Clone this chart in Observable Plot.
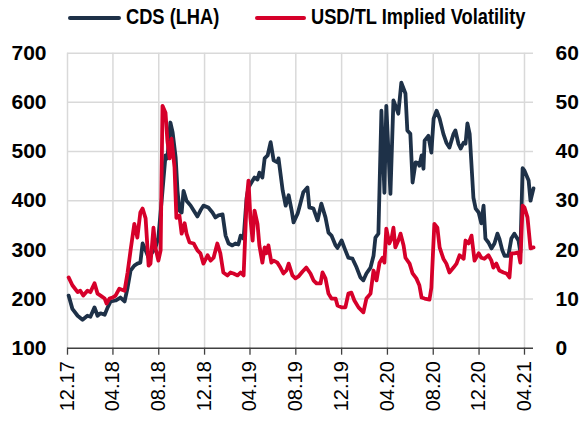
<!DOCTYPE html>
<html>
<head>
<meta charset="utf-8">
<script src="https://cdn.jsdelivr.net/npm/d3@7"></script>
<script src="https://cdn.jsdelivr.net/npm/@observablehq/plot@0.6"></script>
<style>
  html, body { margin: 0; padding: 0; background: #fff; }
  #wrap { width: 587px; height: 421px; position: relative; overflow: hidden; }
  #legend { position: relative; width: 587px; height: 36px; }
  .sw { position: absolute; height: 4px; border-radius: 2px; top: 16px; }
  .lt { position: absolute; top: 4px; font-family: "Liberation Sans", Arial, sans-serif; font-weight: bold; font-size: 22px; line-height: 26px; color: #000; white-space: nowrap; transform: scaleX(0.83); transform-origin: 0 50%; }
  #chart svg { display: block; }
</style>
</head>
<body>
<div id="wrap">
  <div id="legend"></div>
  <div id="chart"></div>
</div>
<script>
// ---- data ----
const seriesNames = ["CDS (LHA)", "USD/TL Implied Volatility"];
const seriesColors = ["#1e3148", "#d6002a"];

const cdsDates = ["2017-12-04","2017-12-14","2017-12-28","2018-01-10","2018-01-23","2018-01-31","2018-02-11","2018-02-19","2018-02-27","2018-03-10","2018-03-18","2018-03-26","2018-04-08","2018-04-21","2018-05-02","2018-05-10","2018-05-18","2018-05-28","2018-06-05","2018-06-13","2018-06-19","2018-06-27","2018-07-05","2018-07-23","2018-07-31","2018-08-11","2018-08-19","2018-08-24","2018-09-01","2018-09-07","2018-09-15","2018-09-20","2018-09-25","2018-10-01","2018-10-06","2018-10-14","2018-10-25","2018-11-02","2018-11-12","2018-11-20","2018-11-28","2018-12-11","2018-12-22","2018-12-30","2019-01-07","2019-01-18","2019-01-26","2019-02-03","2019-02-13","2019-02-21","2019-03-01","2019-03-07","2019-03-15","2019-03-23","2019-03-28","2019-04-08","2019-04-13","2019-04-21","2019-04-26","2019-05-04","2019-05-10","2019-05-18","2019-05-26","2019-06-03","2019-06-13","2019-06-16","2019-06-27","2019-07-05","2019-07-13","2019-07-21","2019-07-26","2019-08-06","2019-08-13","2019-08-21","2019-09-01","2019-09-06","2019-09-09","2019-09-17","2019-09-28","2019-10-08","2019-10-19","2019-10-27","2019-11-04","2019-11-15","2019-11-20","2019-12-01","2019-12-11","2019-12-19","2019-12-30","2020-01-10","2020-01-20","2020-01-28","2020-02-05","2020-02-16","2020-02-24","2020-02-29","2020-03-08","2020-03-16","2020-03-24","2020-03-29","2020-04-09","2020-04-17","2020-04-25","2020-04-30","2020-05-08","2020-05-19","2020-05-24","2020-06-01","2020-06-07","2020-06-15","2020-06-23","2020-06-25","2020-07-01","2020-07-06","2020-07-09","2020-07-19","2020-07-27","2020-08-02","2020-08-10","2020-08-18","2020-08-28","2020-09-05","2020-09-13","2020-09-24","2020-09-29","2020-10-07","2020-10-13","2020-10-21","2020-10-26","2020-10-31","2020-11-06","2020-11-16","2020-11-22","2020-11-30","2020-12-07","2020-12-13","2020-12-18","2020-12-26","2021-01-03","2021-01-11","2021-01-19","2021-01-24","2021-02-01","2021-02-07","2021-02-17","2021-02-25","2021-03-05","2021-03-16","2021-03-21","2021-03-27","2021-04-01","2021-04-12","2021-04-17","2021-04-25"];
const cdsValues = [207,180,166,158,166,164,183,166,171,168,183,195,197,203,195,223,258,268,272,274,313,299,284,304,325,420,492,486,559,539,488,420,380,376,420,400,390,380,368,380,390,386,376,366,370,372,329,313,309,313,311,329,323,406,427,441,447,443,457,447,486,492,519,482,478,486,421,390,411,380,356,374,394,417,427,386,386,384,360,394,366,335,329,309,304,319,299,284,282,264,244,238,252,264,288,325,333,583,416,593,414,604,588,577,640,618,543,536,437,478,476,471,492,465,522,532,498,567,583,567,536,518,508,536,543,516,506,518,516,557,536,406,384,376,354,390,323,315,303,313,333,323,299,288,288,323,333,319,295,466,461,441,400,425];

const volDates = ["2017-12-04","2017-12-14","2017-12-28","2018-01-04","2018-01-12","2018-01-23","2018-01-31","2018-02-11","2018-02-19","2018-02-27","2018-03-10","2018-03-15","2018-03-23","2018-03-31","2018-04-08","2018-04-18","2018-05-02","2018-05-10","2018-05-18","2018-05-28","2018-06-05","2018-06-13","2018-06-19","2018-06-27","2018-07-05","2018-07-10","2018-07-18","2018-07-23","2018-07-31","2018-08-06","2018-08-11","2018-08-19","2018-08-24","2018-08-30","2018-09-04","2018-09-12","2018-09-17","2018-09-25","2018-10-01","2018-10-09","2018-10-14","2018-10-22","2018-11-02","2018-11-12","2018-11-20","2018-11-28","2018-12-09","2018-12-17","2018-12-25","2019-01-04","2019-01-12","2019-01-20","2019-01-31","2019-02-08","2019-02-16","2019-02-27","2019-03-07","2019-03-15","2019-03-23","2019-03-28","2019-04-02","2019-04-08","2019-04-13","2019-04-21","2019-04-26","2019-05-04","2019-05-10","2019-05-15","2019-05-20","2019-05-28","2019-06-03","2019-06-13","2019-06-21","2019-06-29","2019-07-07","2019-07-13","2019-07-23","2019-07-31","2019-08-08","2019-08-19","2019-08-29","2019-09-09","2019-09-17","2019-09-25","2019-10-06","2019-10-11","2019-10-19","2019-10-27","2019-11-04","2019-11-15","2019-11-20","2019-12-01","2019-12-11","2019-12-19","2019-12-27","2020-01-04","2020-01-15","2020-01-28","2020-02-05","2020-02-16","2020-02-24","2020-03-03","2020-03-11","2020-03-19","2020-03-24","2020-03-29","2020-04-06","2020-04-12","2020-04-17","2020-04-22","2020-04-30","2020-05-06","2020-05-14","2020-05-19","2020-05-30","2020-06-07","2020-06-17","2020-06-25","2020-07-01","2020-07-09","2020-07-22","2020-07-27","2020-08-04","2020-08-12","2020-08-18","2020-08-28","2020-09-05","2020-09-13","2020-09-24","2020-10-02","2020-10-10","2020-10-21","2020-10-26","2020-11-03","2020-11-11","2020-11-19","2020-11-30","2020-12-07","2020-12-15","2020-12-26","2021-01-03","2021-01-08","2021-01-16","2021-01-24","2021-02-04","2021-02-12","2021-02-20","2021-02-25","2021-03-05","2021-03-16","2021-03-21","2021-03-27","2021-04-01","2021-04-09","2021-04-17","2021-04-25"];
const volValues = [14.4,12.8,11.4,11.7,10.7,11.7,11.4,13.2,11.1,10.7,10.1,9.1,10.1,10.3,10.7,12.1,11.7,15.4,19.9,25.3,22.5,27.6,28.4,26.4,16.8,17.2,24.5,20.5,17.8,19.9,49.3,47.9,42.2,38.6,42.6,36.8,26.5,27.0,23.3,25.4,23.3,21.5,21.3,19.9,19.3,17.2,18.9,17.8,18.4,21.3,19.3,15.4,14.8,15.4,15.2,14.8,15.4,14.8,30.0,34.1,26.5,21.9,28.0,25.3,20.9,17.4,20.5,19.3,20.9,17.4,17.8,17.4,16.4,15.2,15.8,17.2,14.8,14.2,14.6,15.6,16.4,15.2,13.8,13.2,13.2,15.4,14.2,11.1,10.1,10.1,8.7,8.3,8.3,11.1,11.3,9.7,8.3,7.3,10.1,11.1,15.8,13.8,17.4,18.4,17.4,24.3,21.3,22.3,24.5,20.5,21.9,23.3,20.9,18.4,17.2,15.2,14.2,12.8,10.3,10.1,9.9,12.3,25.3,24.5,20.5,18.2,17.2,15.4,16.4,17.2,18.9,18.2,21.9,21.3,22.9,17.8,19.3,18.4,18.2,18.9,17.8,16.4,17.2,15.8,15.4,15.2,14.4,19.3,19.3,19.5,17.4,29.0,28.6,26.6,20.3,20.5];

const leftTicks = [100, 200, 300, 400, 500, 600, 700];
const rightTicks = [0, 10, 20, 30, 40, 50, 60];
const xTickLabels = ["12.17","04.18","08.18","12.18","04.19","08.19","12.19","04.20","08.20","12.20","04.21"];
const xDomain = ["2017-12-01", "2021-04-25"];

// ---- build ----
const parseTick = d3.utcParse("%m.%y");
const xTicks = xTickLabels.map(parseTick);
const cds = cdsDates.map((d, i) => ({date: new Date(d), value: cdsValues[i]}));
const vol = volDates.map((d, i) => ({date: new Date(d), value: volValues[i]}));
// right axis (0..60) maps onto left axis (100..700)
const r0 = rightTicks[0], r1 = rightTicks[rightTicks.length - 1];
const l0 = leftTicks[0], l1 = leftTicks[leftTicks.length - 1];
const toLeft = v => l0 + (v - r0) * (l1 - l0) / (r1 - r0);
const toRight = v => r0 + (v - l0) * (r1 - r0) / (l1 - l0);

// legend
const legend = document.getElementById("legend");
const legendPos = [[68, 126], [255, 311]];
seriesNames.forEach((name, i) => {
  const sw = document.createElement("div");
  sw.className = "sw";
  sw.style.left = legendPos[i][0] + "px";
  sw.style.width = (legendPos[i][1] - legendPos[i][0] - 5) + "px";
  sw.style.background = seriesColors[i];
  legend.appendChild(sw);
  const t = document.createElement("div");
  t.className = "lt";
  t.style.left = legendPos[i][1] + "px";
  t.textContent = name;
  legend.appendChild(t);
});

const grid = "#d9d9d9";
const chart = Plot.plot({
  width: 587,
  height: 385,
  marginLeft: 67,
  marginRight: 54,
  marginTop: 16.7,
  marginBottom: 73.3,
  x: {type: "utc", domain: xDomain.map(d => new Date(d)), label: null},
  y: {domain: [l0, l1], label: null},
  style: {fontFamily: "'Liberation Sans', Arial, sans-serif", color: "#000", background: "#fff", overflow: "visible"},
  marks: [
    Plot.gridX(xTicks, {stroke: grid, strokeOpacity: 1, strokeWidth: 1.5}),
    Plot.gridY(leftTicks.slice(1), {stroke: grid, strokeOpacity: 1, strokeWidth: 1.5}),
    Plot.ruleY([l0], {stroke: "#404040", strokeWidth: 1.5}),
    Plot.axisX(xTicks, {tickFormat: d3.utcFormat("%m.%y"), tickRotate: -90, tickSize: 7, tickPadding: 6, fontSize: 20, stroke: "#404040", strokeWidth: 1.3, label: null}),
    Plot.axisY(leftTicks, {anchor: "left", tickSize: 0, tickPadding: 21, fontSize: 21, fontWeight: "bold", label: null}),
    Plot.axisY(rightTicks.map(toLeft), {anchor: "right", tickSize: 0, tickPadding: 22, fontSize: 21, fontWeight: "bold", tickFormat: d => String(Math.round(toRight(d))), label: null}),
    Plot.line(cds, {x: "date", y: "value", stroke: seriesColors[0], strokeWidth: 3.8, strokeLinejoin: "round"}),
    Plot.line(vol, {x: "date", y: d => toLeft(d.value), stroke: seriesColors[1], strokeWidth: 3.8, strokeLinejoin: "round"})
  ]
});
document.getElementById("chart").appendChild(chart);
</script>
</body>
</html>
